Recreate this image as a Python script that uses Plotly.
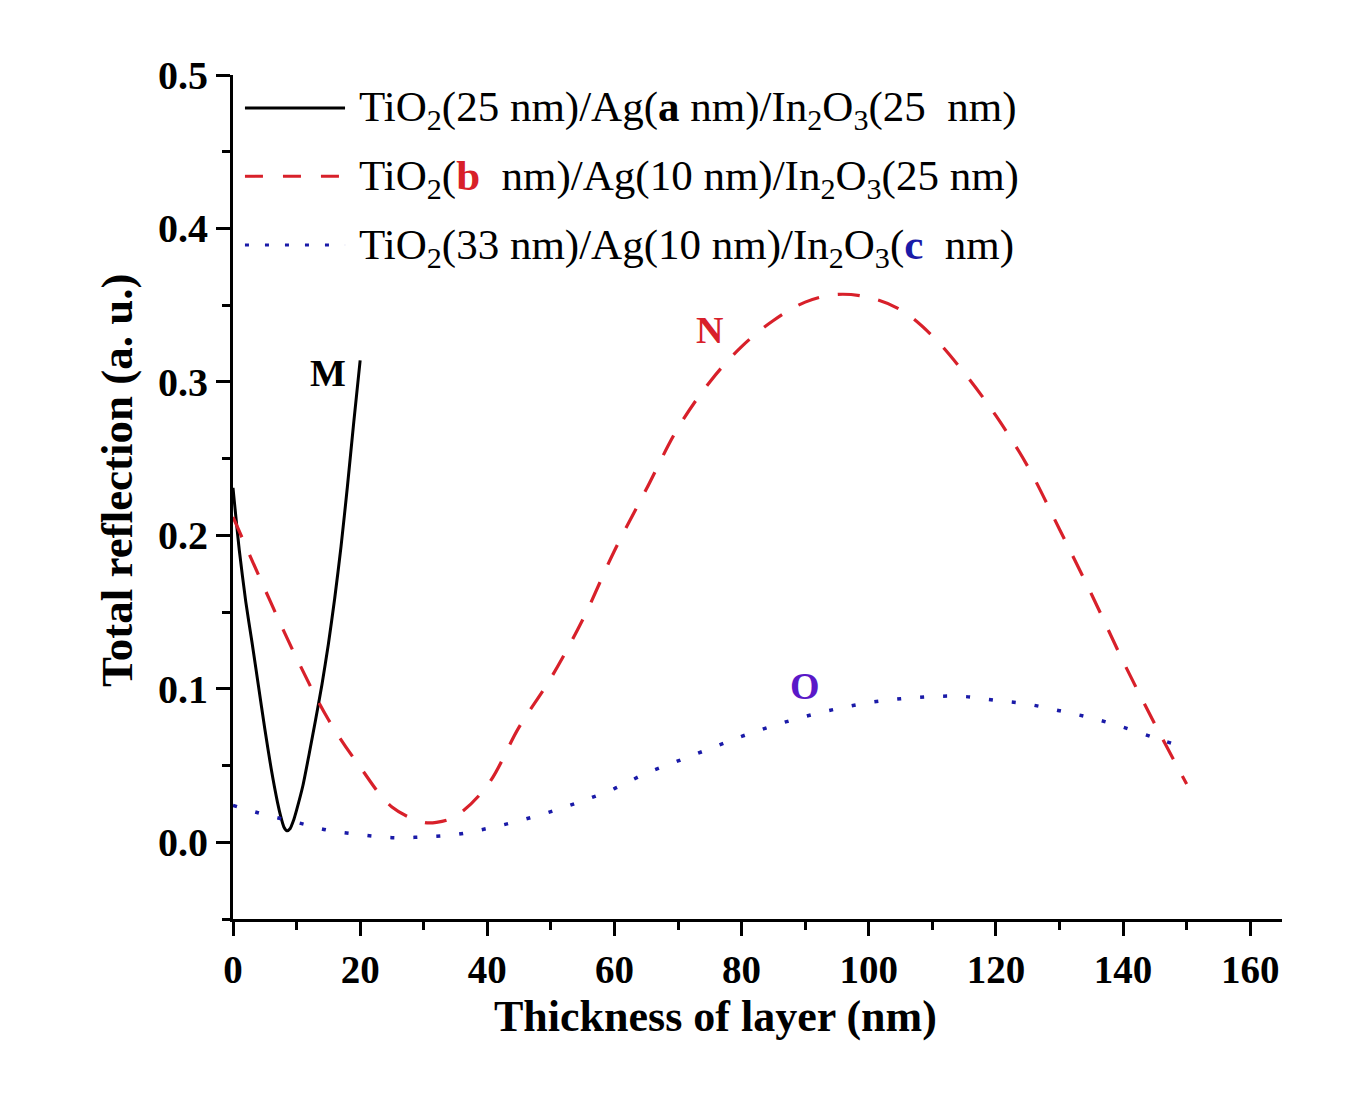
import plotly.graph_objects as go

# ---- data ----
m_x = [0, 1, 2, 3, 4, 5, 6, 7, 7.5, 8, 8.5, 9, 9.5, 10, 11, 12, 13, 14, 15, 16, 17, 18, 19, 20]
m_y = [0.231, 0.190, 0.157, 0.130, 0.102, 0.074, 0.048, 0.026, 0.017, 0.010, 0.0075, 0.009, 0.014,
       0.021, 0.037, 0.058, 0.080, 0.103, 0.129, 0.159, 0.193, 0.232, 0.274, 0.314]

n_x = [0, 5, 10, 15, 20, 25, 30, 32, 35, 40, 45, 50, 55, 60, 65, 70, 75, 80, 85, 90, 95,
       100, 105, 110, 115, 120, 125, 130, 135, 140, 145, 150]
n_y = [0.212, 0.165, 0.120, 0.080, 0.049, 0.023, 0.013, 0.013, 0.017, 0.037, 0.075, 0.107,
       0.145, 0.190, 0.230, 0.270, 0.300, 0.323, 0.340, 0.352, 0.357, 0.355, 0.347, 0.330,
       0.306, 0.278, 0.245, 0.204, 0.162, 0.118, 0.077, 0.038]

o_x = [0, 5, 10, 15, 20, 25, 30, 35, 40, 45, 50, 55, 60, 65, 70, 75, 80, 85, 90, 95, 100,
       105, 110, 115, 120, 125, 130, 135, 140, 145, 148]
o_y = [0.024, 0.018, 0.013, 0.0078, 0.005, 0.003, 0.0035, 0.005, 0.009, 0.014, 0.020, 0.027,
       0.035, 0.045, 0.053, 0.061, 0.069, 0.076, 0.082, 0.087, 0.091, 0.0935, 0.095, 0.095,
       0.0925, 0.090, 0.0857, 0.081, 0.075, 0.068, 0.064]

x_ticks = [0, 20, 40, 60, 80, 100, 120, 140, 160]
y_ticks = [0.0, 0.1, 0.2, 0.3, 0.4, 0.5]
legend_labels = [
    "TiO<sub>2</sub>(25 nm)/Ag(<b>a</b> nm)/In<sub>2</sub>O<sub>3</sub>(25  nm)",
    "TiO<sub>2</sub>(<span style='color:#d8202a'><b>b</b></span>  nm)/Ag(10 nm)/In<sub>2</sub>O<sub>3</sub>(25 nm)",
    "TiO<sub>2</sub>(33 nm)/Ag(10 nm)/In<sub>2</sub>O<sub>3</sub>(<span style='color:#1a1aa8'><b>c</b></span>  nm)",
]

BLACK = "#000000"
RED = "#d8202a"
BLUE = "#1a1aa8"
PURPLE = "#5a18c8"
FONT = "Liberation Serif"

fig = go.Figure()
fig.add_trace(go.Scatter(x=m_x, y=m_y, mode="lines",
                         line=dict(color=BLACK, width=3, shape="spline", smoothing=0.6),
                         showlegend=False))
fig.add_trace(go.Scatter(x=n_x, y=n_y, mode="lines",
                         line=dict(color=RED, width=3.2, dash="22px,19px", shape="spline"),
                         showlegend=False))
fig.add_trace(go.Scatter(x=o_x, y=o_y, mode="lines",
                         line=dict(color=BLUE, width=3.5, dash="4px,19px", shape="spline"),
                         showlegend=False))

# manual legend
leg_y = [0.961, 0.880, 0.7986]
leg_dash = ["solid", "18px,20px", "4px,16px"]
leg_col = [BLACK, RED, BLUE]
for i in range(3):
    fig.add_shape(type="line", xref="paper", yref="paper", x0=0.0114, x1=0.1068,
                  y0=leg_y[i], y1=leg_y[i], line=dict(color=leg_col[i], width=3, dash=leg_dash[i]))
    fig.add_annotation(xref="paper", yref="paper", x=0.1182, y=leg_y[i] - 0.003, xanchor="left",
                       yanchor="middle", text=legend_labels[i], showarrow=False,
                       font=dict(family=FONT, size=43, color="black"))

# curve labels
fig.add_annotation(x=14.9, y=0.306, text="<b>M</b>", showarrow=False,
                   font=dict(family=FONT, size=38, color=BLACK))
fig.add_annotation(x=75, y=0.334, text="<b>N</b>", showarrow=False,
                   font=dict(family=FONT, size=38, color=RED))
fig.add_annotation(x=90, y=0.1016, text="<b>O</b>", showarrow=False,
                   font=dict(family=FONT, size=38, color=PURPLE))

# axis titles
fig.add_annotation(xref="paper", yref="paper", x=0.4595, y=-0.116, text="<b>Thickness of layer (nm)</b>",
                   showarrow=False, xanchor="center", yanchor="middle",
                   font=dict(family=FONT, size=44, color="black"))
fig.add_annotation(xref="paper", yref="paper", x=-0.1106, y=0.520, text="<b>Total reflection (a. u.)</b>",
                   showarrow=False, xanchor="center", yanchor="middle", textangle=-90,
                   font=dict(family=FONT, size=45, color="black"))

axis_common = dict(showline=True, linewidth=3, linecolor="black", showgrid=False, zeroline=False,
                   ticks="outside", ticklen=14, tickwidth=3, tickcolor="black", mirror=False)
fig.update_xaxes(range=[0, 165], tickvals=x_ticks, ticktext=[str(v) for v in x_ticks],
                 tickfont=dict(family=FONT, size=39, color="black", weight="bold"),
                 minor=dict(ticks="outside", ticklen=8, tickwidth=3, tickcolor="black", dtick=10, tick0=0),
                 **axis_common)
fig.update_yaxes(range=[-0.05, 0.5], tickvals=y_ticks, ticktext=[f"{v:.1f}" for v in y_ticks],
                 tickfont=dict(family=FONT, size=40, color="black", weight="bold"),
                 minor=dict(ticks="outside", ticklen=8, tickwidth=3, tickcolor="black", dtick=0.05, tick0=0),
                 **axis_common)

fig.update_layout(width=1363, height=1101, plot_bgcolor="white", paper_bgcolor="white",
                  margin=dict(l=233, r=81, t=75, b=182), showlegend=False)
fig.write_html("out.html")
